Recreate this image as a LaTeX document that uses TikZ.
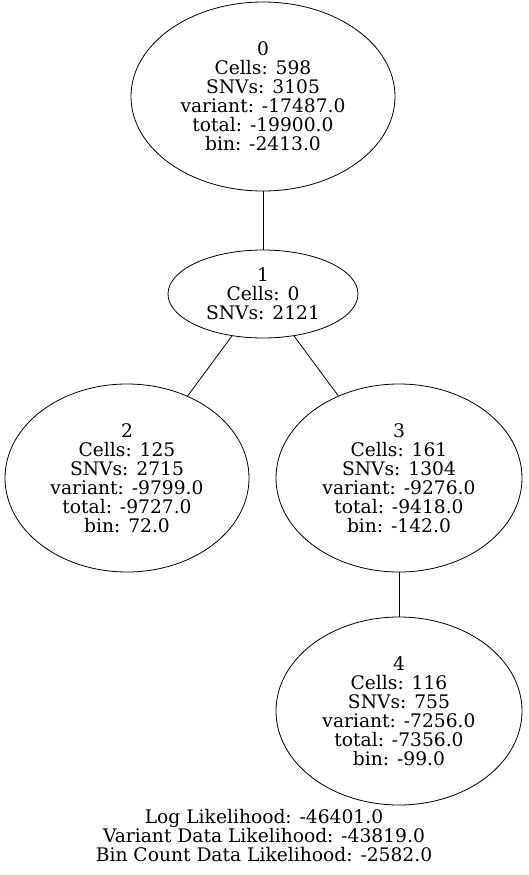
\documentclass[tikz,border=0pt]{standalone}
\usepackage{fontspec}
\setmainfont{DejaVu Serif}
\usetikzlibrary{shapes.geometric}
\begin{document}
\begin{tikzpicture}[x=1pt,y=-1pt,
  tn/.style={ellipse,draw,line width=0.8pt,inner sep=0pt,align=center,font=\fontsize{18.67}{19}\selectfont},
  edge/.style={draw,line width=0.8pt}]
\useasboundingbox (0,0) rectangle (528,875);
\node[tn,minimum width=264,minimum height=189] (n0) at (263,96.5) {0\\Cells: 598\\SNVs: 3105\\variant: -17487.0\\total: -19900.0\\bin: -2413.0};
\node[tn,minimum width=190,minimum height=88] (n1) at (263,294) {1\\Cells: 0\\SNVs: 2121};
\node[tn,minimum width=244,minimum height=188] (n2) at (127,478) {2\\Cells: 125\\SNVs: 2715\\variant: -9799.0\\total: -9727.0\\bin: 72.0};
\node[tn,minimum width=246,minimum height=188] (n3) at (399,478) {3\\Cells: 161\\SNVs: 1304\\variant: -9276.0\\total: -9418.0\\bin: -142.0};
\node[tn,minimum width=246,minimum height=188] (n4) at (399,711) {4\\Cells: 116\\SNVs: 755\\variant: -7256.0\\total: -7356.0\\bin: -99.0};
\draw[edge] (n0) -- (n1);
\draw[edge] (n1) -- (n2);
\draw[edge] (n1) -- (n3);
\draw[edge] (n3) -- (n4);
\node[align=center,inner sep=0pt,font=\fontsize{18.67}{19}\selectfont] (lab) at (264,836) {Log Likelihood: -46401.0\\Variant Data Likelihood: -43819.0\\Bin Count Data Likelihood: -2582.0};
\end{tikzpicture}
\end{document}
